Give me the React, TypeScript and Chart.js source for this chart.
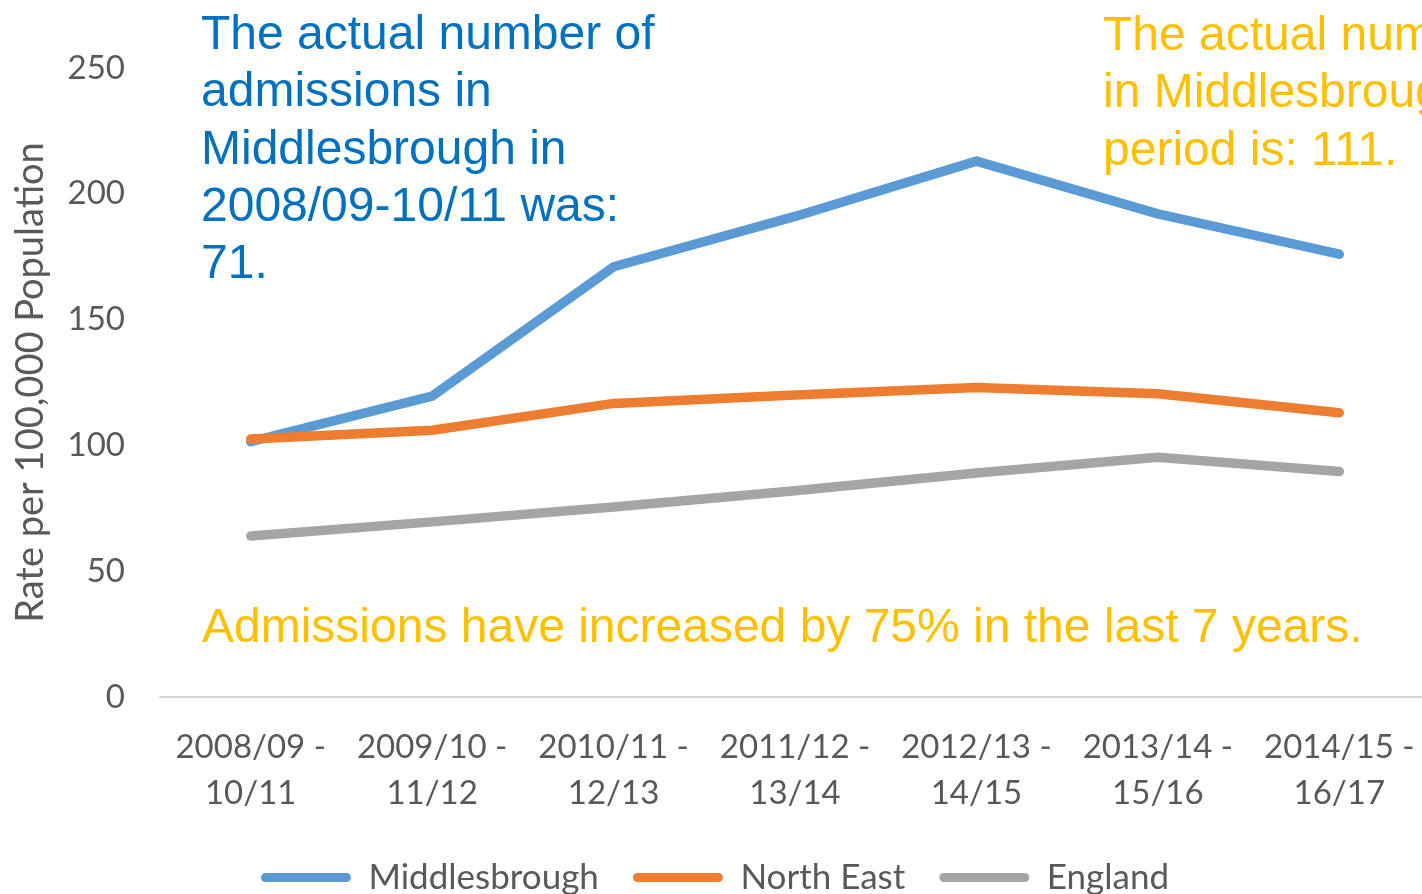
import React, { useEffect, useRef } from "react";
import { Chart, registerables } from "chart.js";

Chart.register(...registerables);

const categories: string[][] = [
  ["2008/09 -", "10/11"],
  ["2009/10 -", "11/12"],
  ["2010/11 -", "12/13"],
  ["2011/12 -", "13/14"],
  ["2012/13 -", "14/15"],
  ["2013/14 -", "15/16"],
  ["2014/15 -", "16/17"],
];

const middlesbrough = [101.5, 119.6, 171, 191, 213, 192, 176];
const northEast = [102.5, 106, 116.7, 120, 123, 120.5, 113];
const england = [64, 69.6, 75.5, 82, 89, 95.3, 89.6];

const seriesNames = ["Middlesbrough", "North East", "England"];
const seriesColors = ["#5B9BD5", "#ED7D31", "#A5A5A5"];

const yMin = 0;
const yMax = 250;
const yStep = 50;
const yTitle = "Rate per 100,000 Population";

const noteBlue = [
  "The actual number of",
  "admissions in",
  "Middlesbrough in",
  "2008/09-10/11 was:",
  "71.",
];
const noteGoldTop = [
  "The actual number of admissions",
  "in Middlesbrough in this",
  "period is: 111.",
];
const noteGoldBottom = "Admissions have increased by 75% in the last 7 years.";

const TEXT_GREY = "#595959";
const FONT = "Lato, 'Open Sans', sans-serif";

const notesPlugin = {
  id: "notes",
  afterDatasetsDraw(chart: any) {
    const ctx = chart.ctx as CanvasRenderingContext2D;
    ctx.save();
    ctx.font = '48px "Liberation Sans", Arial, sans-serif';
    ctx.textAlign = "left";
    ctx.textBaseline = "alphabetic";
    const lh = 57.3;
    ctx.fillStyle = "#0070C0";
    noteBlue.forEach((t, i) => ctx.fillText(t, 201, 49 + i * lh));
    ctx.fillStyle = "#FFC000";
    noteGoldTop.forEach((t, i) => ctx.fillText(t, 1103, 50 + i * lh));
    ctx.fillText(noteGoldBottom, 202, 642);
    ctx.restore();
  },
};

export default function App() {
  const ref = useRef<HTMLCanvasElement | null>(null);

  useEffect(() => {
    if (!ref.current) return;
    const values = [middlesbrough, northEast, england];
    const chart = new Chart(ref.current, {
      type: "line",
      data: {
        labels: categories,
        datasets: values.map((v, i) => ({
          label: seriesNames[i],
          data: v,
          borderColor: seriesColors[i],
          backgroundColor: seriesColors[i],
          borderWidth: 9.5,
          borderCapStyle: "round",
          borderJoinStyle: "round",
          pointRadius: 0,
          pointHoverRadius: 0,
          tension: 0,
          fill: false,
          order: 3 - i,
        })),
      },
      options: {
        animation: false,
        responsive: true,
        maintainAspectRatio: false,
        layout: { padding: { top: 68, right: 0, left: 0, bottom: 0 } },
        scales: {
          x: {
            offset: true,
            grid: { display: false, drawTicks: false },
            border: { display: true, color: "#D9D9D9", width: 2 },
            ticks: {
              color: TEXT_GREY,
              font: { family: FONT, size: 33, lineHeight: "46px" },
              padding: 27,
              maxRotation: 0,
              minRotation: 0,
              autoSkip: false,
            },
            afterFit(scale: any) {
              scale.height = 129;
              scale.paddingLeft = 0;
              scale.paddingRight = 0;
            },
          },
          y: {
            min: yMin,
            max: yMax,
            grid: { display: false, drawTicks: false },
            border: { display: false },
            ticks: {
              stepSize: yStep,
              color: TEXT_GREY,
              font: { family: FONT, size: 33 },
              padding: 35,
            },
            title: {
              display: true,
              text: yTitle,
              color: TEXT_GREY,
              font: { family: FONT, size: 38 },
              padding: { top: 8, bottom: 0 },
            },
            afterFit(scale: any) {
              scale.width = 160;
            },
          },
        },
        plugins: {
          tooltip: { enabled: false },
          legend: {
            position: "bottom",
            labels: {
              color: TEXT_GREY,
              font: { family: FONT, size: 35 },
              boxWidth: 90,
              boxHeight: 9,
              padding: 34,
              useBorderRadius: true,
              borderRadius: 4.5,
              generateLabels(c: any) {
                const items = Chart.defaults.plugins.legend.labels.generateLabels(c);
                return items
                  .map((it: any) => ({ ...it, lineWidth: 0, borderRadius: 4.5 }))
                  .sort((a: any, b: any) => a.datasetIndex - b.datasetIndex);
              },
            },
          },
        },
      } as any,
      plugins: [notesPlugin],
    });
    return () => chart.destroy();
  }, []);

  return (
    <div
      style={{
        position: "absolute",
        left: 0,
        top: 0,
        width: 1422,
        height: 894,
        overflow: "hidden",
        background: "#fff",
      }}
    >
      <div style={{ position: "relative", width: 1430, height: 905 }}>
        <canvas ref={ref} />
      </div>
    </div>
  );
}
